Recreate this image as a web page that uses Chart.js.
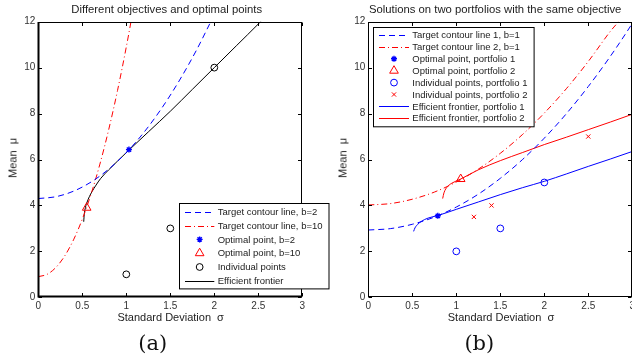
<!DOCTYPE html>
<html><head><meta charset="utf-8">
<script src="https://cdn.jsdelivr.net/npm/chart.js@4.4.1/dist/chart.umd.min.js"></script>
<style>
html,body{margin:0;padding:0;background:#fff;}
#wrap{position:relative;width:632px;height:362px;overflow:hidden;background:#fff;}
canvas{position:absolute;top:0;}
.t{position:absolute;white-space:pre;font-family:"Liberation Sans",Arial,sans-serif;color:#222;transform:translate(-50%,-50%);line-height:1;}
.cap{font-family:"DejaVu Serif",serif;font-size:21px;color:#111;}
</style></head><body>
<div id="wrap">
<canvas id="ca" width="340" height="362" style="left:0px;width:340px;height:362px"></canvas>
<canvas id="cb" width="303" height="362" style="left:330px;width:303px;height:362px"></canvas>
<div class="t" style="left:166.7px;top:10px;font-size:11.3px">Different objectives and optimal points</div>
<div class="t" style="left:495.2px;top:10px;font-size:11.3px">Solutions on two portfolios with the same objective</div>
<div class="t" style="left:170.7px;top:317px;font-size:11px">Standard Deviation  σ</div>
<div class="t" style="left:501px;top:317px;font-size:11px">Standard Deviation  σ</div>
<div class="t" style="left:12.5px;top:158px;font-size:11px;transform:translate(-50%,-50%) rotate(-90deg)">Mean  μ</div>
<div class="t" style="left:343px;top:158px;font-size:11px;transform:translate(-50%,-50%) rotate(-90deg)">Mean  μ</div>
<div class="t cap" style="left:152.8px;top:343px">(a)</div>
<div class="t cap" style="left:479.3px;top:343px">(b)</div>
</div>
<script>
// ---------- shared axes ----------
const xTicks = [0, 0.5, 1, 1.5, 2, 2.5, 3];
const xTickLabels = ['0', '0.5', '1', '1.5', '2', '2.5', '3'];
const yTicks = [0, 2, 4, 6, 8, 10, 12];
const yTickLabels = ['0', '2', '4', '6', '8', '10', '12'];

// ---------- panel (a) ----------
const aContour2Sigma = [0, 0.2, 0.4, 0.6, 0.8, 1.0, 1.2, 1.4, 1.6, 1.8, 1.96, 2.0];
const aContour2Mu    = [4.3, 4.38, 4.62, 5.02, 5.58, 6.3, 7.18, 8.22, 9.42, 10.78, 12.0, 12.3];
const aContour10Sigma = [0, 0.1, 0.2, 0.3, 0.4, 0.5, 0.6, 0.7, 0.8, 0.9, 1.0, 1.053, 1.08];
const aContour10Mu    = [0.9, 1.0, 1.3, 1.8, 2.5, 3.4, 4.5, 5.8, 7.3, 9.0, 10.9, 12.0, 12.6];
const aFrontierSigma = [0.516, 0.522, 0.535, 0.555, 0.58, 0.61, 0.65, 0.71, 0.8, 0.9, 1.03, 1.25, 1.5, 1.75, 2.0, 2.25, 2.5, 2.55];
const aFrontierMu    = [3.29, 3.6, 3.9, 4.15, 4.38, 4.6, 4.85, 5.18, 5.55, 5.93, 6.41, 7.2, 8.1, 9.05, 10.0, 10.95, 11.9, 12.1];
const aOpt2Sigma = [1.03], aOpt2Mu = [6.43];
const aOpt10Sigma = [0.55], aOpt10Mu = [3.9];
const aIndSigma = [1, 1.5, 2], aIndMu = [1, 3, 10];
const aLabels = ['Target contour line, b=2', 'Target contour line, b=10', 'Optimal point, b=2',
                 'Optimal point, b=10', 'Individual points', 'Efficient frontier'];

// ---------- panel (b) ----------
const bContour1Sigma = [0, 0.25, 0.5, 0.75, 1.0, 1.25, 1.5, 1.75, 2.0, 2.25, 2.5, 2.75, 3.0, 3.05];
const bContour1Mu    = [2.93, 2.99, 3.18, 3.49, 3.93, 4.49, 5.18, 5.99, 6.93, 7.99, 9.18, 10.49, 11.93, 12.25];
const bContour2Sigma = [0, 0.25, 0.5, 0.75, 1.0, 1.25, 1.5, 1.75, 2.0, 2.25, 2.5, 2.75, 2.84, 2.9];
const bContour2Mu    = [4.02, 4.08, 4.27, 4.58, 5.02, 5.58, 6.27, 7.08, 8.02, 9.08, 10.27, 11.58, 12.0, 12.4];
const bOpt1Sigma = [0.79], bOpt1Mu = [3.55];
const bOpt2Sigma = [1.05], bOpt2Mu = [5.15];
const bInd1Sigma = [1, 1.5, 2], bInd1Mu = [2, 3, 5];
const bInd2Sigma = [1.2, 1.4, 2.5], bInd2Mu = [3.5, 4, 7];
const bFrontier1Sigma = [0.515, 0.53, 0.56, 0.6, 0.68, 0.79, 1.0, 1.25, 1.5, 1.75, 2.0, 2.25, 2.5, 2.75, 3.0];
const bFrontier1Mu    = [2.87, 3.02, 3.17, 3.3, 3.45, 3.56, 3.83, 4.15, 4.47, 4.77, 5.05, 5.37, 5.7, 6.02, 6.35];
const bFrontier2Sigma = [0.845, 0.86, 0.9, 0.95, 1.05, 1.25, 1.5, 1.75, 2.0, 2.25, 2.5, 2.75, 3.0];
const bFrontier2Mu    = [4.3, 4.55, 4.82, 4.97, 5.15, 5.55, 5.95, 6.3, 6.65, 6.97, 7.3, 7.63, 7.97];
const bLabels = ['Target contour line 1, b=1', 'Target contour line 2, b=1', 'Optimal point, portfolio 1',
                 'Optimal point, portfolio 2', 'Individual points, portfolio 1', 'Individual points, portfolio 2',
                 'Efficient frontier, portfolio 1', 'Efficient frontier, portfolio 2'];

const BLUE = '#0000ff', RED = '#ff0000', BLACK = '#000000';
const DASH = [6, 4], DASHDOT = [6, 3, 1, 3];
const FONT = '"Liberation Sans", Arial, sans-serif';

function pts(xs, ys) { return xs.map((x, i) => ({x: x, y: ys[i]})); }
function lineDS(label, xs, ys, color, dash) {
  return {label, data: pts(xs, ys), showLine: true, borderColor: color, backgroundColor: color, borderWidth: 1,
          borderDash: dash, pointRadius: 0, cubicInterpolationMode: 'monotone', fill: false,
          kind: 'line', legendColor: color, legendDash: dash};
}
function markDS(label, xs, ys, color, style, r, w) {
  return {label, data: pts(xs, ys), showLine: false, pointStyle: style, pointRadius: r,
          borderColor: color, backgroundColor: 'rgba(0,0,0,0)',
          pointBorderColor: color, pointBackgroundColor: 'rgba(0,0,0,0)', pointBorderWidth: w || 1,
          kind: 'mark', legendColor: color, legendStyle: style, legendRadius: r, legendWidth: w || 1};
}

function drawMarker(ctx, style, x, y, r, color, w) {
  ctx.save();
  ctx.strokeStyle = color; ctx.lineWidth = w || 1; ctx.setLineDash([]);
  ctx.beginPath();
  const d = Math.SQRT1_2 * r;
  if (style === 'circle') { ctx.arc(x, y, r, 0, Math.PI * 2); }
  else if (style === 'triangle') {
    let a = 0;
    ctx.moveTo(x + Math.sin(a) * r, y - Math.cos(a) * r);
    a += 2 * Math.PI / 3; ctx.lineTo(x + Math.sin(a) * r, y - Math.cos(a) * r);
    a += 2 * Math.PI / 3; ctx.lineTo(x + Math.sin(a) * r, y - Math.cos(a) * r);
    ctx.closePath();
  } else if (style === 'crossRot') {
    ctx.moveTo(x - d, y - d); ctx.lineTo(x + d, y + d);
    ctx.moveTo(x - d, y + d); ctx.lineTo(x + d, y - d);
  } else if (style === 'star') {
    ctx.moveTo(x - r, y); ctx.lineTo(x + r, y);
    ctx.moveTo(x, y - r); ctx.lineTo(x, y + r);
    ctx.moveTo(x - d, y - d); ctx.lineTo(x + d, y + d);
    ctx.moveTo(x - d, y + d); ctx.lineTo(x + d, y - d);
  }
  ctx.stroke();
  ctx.restore();
}

function framePlugin(cfg) {
  return {
    id: 'frame',
    afterDatasetsDraw(chart) {
      const ctx = chart.ctx, a = chart.chartArea;
      const sx = chart.scales.x, sy = chart.scales.y;
      const L = Math.round(a.left) + 0.5, R = Math.round(a.right) - 0.5;
      const T = Math.round(a.top) + 0.5, B = Math.round(a.bottom) - 0.5;
      ctx.save();
      ctx.strokeStyle = '#000'; ctx.lineWidth = 1; ctx.setLineDash([]);
      ctx.strokeRect(L, T, R - L, B - T);
      if (cfg.thick) {
        ctx.lineWidth = 2;
        ctx.beginPath();
        ctx.moveTo(L, T - 0.5); ctx.lineTo(L, B + 1);
        ctx.moveTo(L - 0.5, B); ctx.lineTo(R + 0.5, B);
        ctx.stroke();
        ctx.lineWidth = 1;
      }
      const tl = 3.5;
      ctx.beginPath();
      xTicks.forEach(v => {
        const p = Math.round(sx.getPixelForValue(v)) + 0.5;
        ctx.moveTo(p, B); ctx.lineTo(p, B - tl);
        ctx.moveTo(p, T); ctx.lineTo(p, T + tl);
      });
      yTicks.forEach(v => {
        const p = Math.round(sy.getPixelForValue(v)) + 0.5;
        ctx.moveTo(L, p); ctx.lineTo(L + tl, p);
        ctx.moveTo(R, p); ctx.lineTo(R - tl, p);
      });
      ctx.stroke();

      // legend
      const lg = cfg.legend;
      const bx = Math.round(lg.x) + 0.5, by = Math.round(lg.y) + 0.5;
      ctx.fillStyle = '#fff';
      ctx.fillRect(bx, by, lg.w, lg.h);
      ctx.strokeStyle = '#000'; ctx.lineWidth = 1;
      ctx.strokeRect(bx, by, lg.w, lg.h);
      lg.order.forEach((di, i) => {
        const ds = chart.data.datasets[di];
        const y = lg.row0 + i * lg.step;
        if (ds.kind === 'line') {
          ctx.save();
          ctx.strokeStyle = ds.legendColor; ctx.lineWidth = 1;
          ctx.setLineDash(ds.legendDash || []);
          ctx.beginPath(); ctx.moveTo(lg.s0, Math.round(y) + 0.5); ctx.lineTo(lg.s1, Math.round(y) + 0.5); ctx.stroke();
          ctx.restore();
        } else {
          drawMarker(ctx, ds.legendStyle, (lg.s0 + lg.s1) / 2, y, ds.legendRadius, ds.legendColor, ds.legendWidth);
        }
        ctx.save();
        ctx.font = lg.font;
        ctx.textBaseline = 'middle'; ctx.textAlign = 'left';
        ctx.fillStyle = '#222';
        ctx.fillText(ds.label, lg.tx, y + 0.5);
        ctx.restore();
      });
      ctx.restore();
    }
  };
}

function scales(yWidth) {
  return {
    x: {type: 'linear', min: 0, max: 3,
        grid: {display: false, drawTicks: false}, border: {display: false},
        afterBuildTicks: s => { s.ticks = xTicks.map(v => ({value: v})); },
        afterFit: s => { s.height = 20; s.paddingLeft = 0; s.paddingRight = 0; },
        ticks: {padding: 3, color: '#333', font: {family: FONT, size: 10}, maxRotation: 0, autoSkip: false,
                callback: v => xTickLabels[xTicks.indexOf(v)]}},
    y: {type: 'linear', min: 0, max: 12,
        grid: {display: false, drawTicks: false}, border: {display: false},
        afterBuildTicks: s => { s.ticks = yTicks.map(v => ({value: v})); },
        afterFit: s => { s.width = yWidth; s.paddingTop = 0; s.paddingBottom = 0; },
        ticks: {padding: 3, color: '#333', font: {family: FONT, size: 10}, autoSkip: false,
                callback: v => yTickLabels[yTicks.indexOf(v)]}}
  };
}

const commonOpts = {responsive: false, animation: false, events: [], devicePixelRatio: 1,
  plugins: {legend: {display: false}, tooltip: {enabled: false}, title: {display: false}}};

// ----- chart (a)
const dsA = [
  lineDS(aLabels[0], aContour2Sigma, aContour2Mu, BLUE, DASH),
  lineDS(aLabels[1], aContour10Sigma, aContour10Mu, RED, DASHDOT),
  markDS(aLabels[2], aOpt2Sigma, aOpt2Mu, BLUE, 'star', 3, 1.4),
  markDS(aLabels[3], aOpt10Sigma, aOpt10Mu, RED, 'triangle', 5),
  markDS(aLabels[4], aIndSigma, aIndMu, BLACK, 'circle', 3.4),
  lineDS(aLabels[5], aFrontierSigma, aFrontierMu, BLACK, [])
];
new Chart(document.getElementById('ca'), {
  type: 'scatter',
  data: {datasets: dsA},
  options: Object.assign({}, commonOpts, {
    layout: {autoPadding: false, padding: {left: 0, top: 21.7, right: 340 - 302.3, bottom: 362 - 297.3 - 20}},
    scales: scales(38.3)
  }),
  plugins: [framePlugin({thick: true, legend: {x: 179.3, y: 203.3, w: 149.5, h: 85.4,
    order: [0, 1, 2, 3, 4, 5], row0: 211.8, step: 13.8, s0: 185, s1: 214.3, tx: 217.7,
    font: '9.5px ' + FONT}})]
});

// ----- chart (b)
const dsB = [
  lineDS(bLabels[0], bContour1Sigma, bContour1Mu, BLUE, DASH),
  lineDS(bLabels[1], bContour2Sigma, bContour2Mu, RED, DASHDOT),
  markDS(bLabels[2], bOpt1Sigma, bOpt1Mu, BLUE, 'star', 3, 1.4),
  markDS(bLabels[3], bOpt2Sigma, bOpt2Mu, RED, 'triangle', 5),
  markDS(bLabels[4], bInd1Sigma, bInd1Mu, BLUE, 'circle', 3.4),
  markDS(bLabels[5], bInd2Sigma, bInd2Mu, RED, 'crossRot', 3),
  lineDS(bLabels[6], bFrontier1Sigma, bFrontier1Mu, BLUE, []),
  lineDS(bLabels[7], bFrontier2Sigma, bFrontier2Mu, RED, [])
];
new Chart(document.getElementById('cb'), {
  type: 'scatter',
  data: {datasets: dsB},
  options: Object.assign({}, commonOpts, {
    layout: {autoPadding: false, padding: {left: 0, top: 21.7, right: 0.7, bottom: 362 - 297.3 - 20}},
    scales: scales(38.3)
  }),
  plugins: [framePlugin({thick: false, legend: {x: 372.7 - 330, y: 26.7, w: 160.6, h: 99.3,
    order: [0, 1, 2, 3, 4, 5, 6, 7], row0: 35, step: 11.9, s0: 379 - 330, s1: 409 - 330, tx: 412.3 - 330,
    font: '9.5px ' + FONT}})]
});
</script>
</body></html>
